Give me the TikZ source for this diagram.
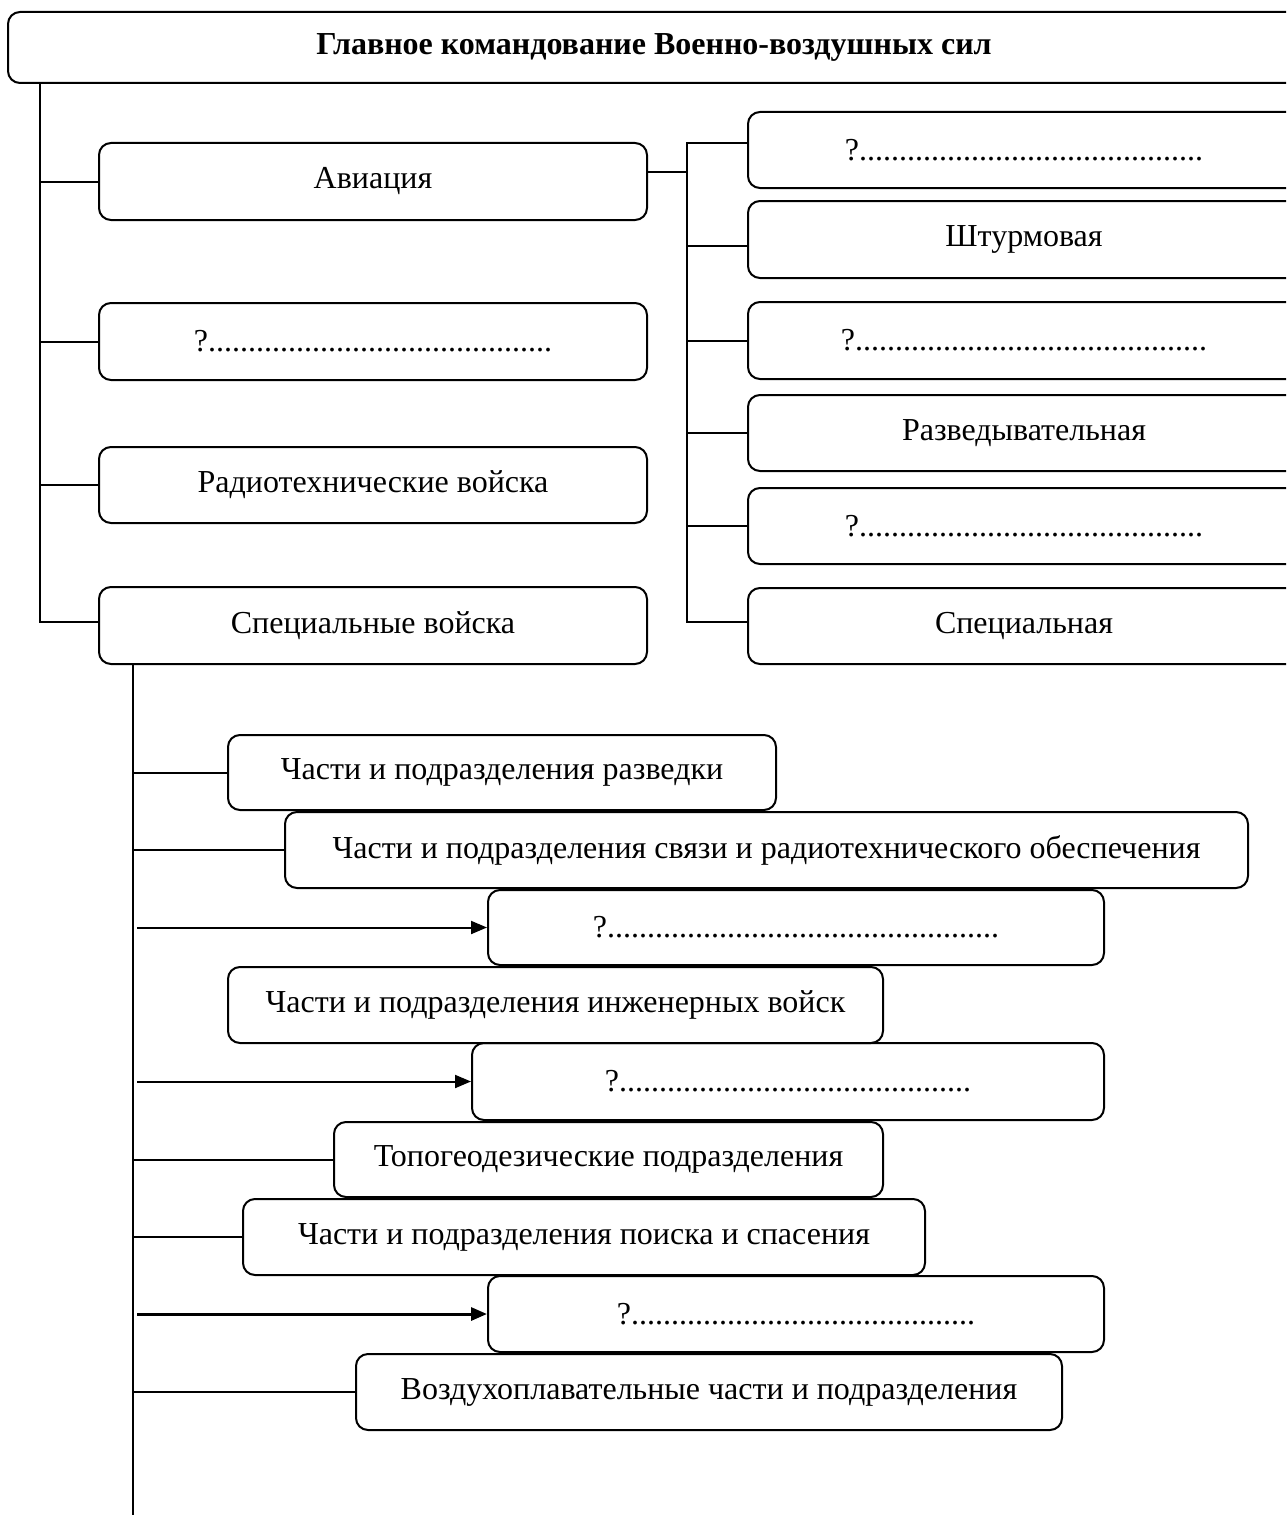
\documentclass[tikz,border=0pt]{standalone}
\usepackage{fontspec}
\setmainfont{Liberation Serif}
\usetikzlibrary{arrows.meta}

\tikzset{
  box/.style={draw, line width=1pt, rounded corners=6pt, inner sep=0pt, align=center},
  wh/.style 2 args={minimum width=#1*0.5pt, minimum height=#2*0.5pt},
  link/.style={line width=1pt},
  arr/.style={line width=1pt, -{Triangle[length=8pt,width=6.5pt]}}
}

\begin{document}
\begin{tikzpicture}[x=0.5pt,y=-0.5pt,font=\fontsize{16}{19}\selectfont]
\useasboundingbox (0,0) rectangle (1286,1520);
\clip (0,0) rectangle (1286,1520);

%Shape: top box
\node[box, wh={1292}{71}, font=\fontsize{16}{19}\selectfont\bfseries] (top) at (654,47.5) {Главное командование Военно-воздушных сил};

%Shape: left column
\node[box, wh={548}{77}] (avia) at (373,181.5) {Авиация};
\node[box, wh={548}{77}] (lq) at (373,341.5) {?...........................................};
\node[box, wh={548}{76}] (radio) at (373,485) {Радиотехнические войска};
\node[box, wh={548}{77}] (spec) at (373,625.5) {Специальные войска};

%Shape: right column
\node[box, wh={552}{76}] (r1) at (1024,150) {?...........................................};
\node[box, wh={552}{77}] (r2) at (1024,239.5) {Штурмовая};
\node[box, wh={552}{77}] (r3) at (1024,340.5) {?............................................};
\node[box, wh={552}{76}] (r4) at (1024,433) {Разведывательная};
\node[box, wh={552}{76}] (r5) at (1024,526) {?...........................................};
\node[box, wh={552}{76}] (r6) at (1024,626) {Специальная};

%Shape: special troops
\node[box, wh={548}{75}] (sa) at (502,772.5) {Части и подразделения разведки};
\node[box, wh={963}{76}] (sb) at (766.5,850) {Части и подразделения связи и радиотехнического обеспечения};
\node[box, wh={616}{75}] (sc) at (796,927.5) {?.................................................};
\node[box, wh={655}{76}] (sd) at (555.5,1005) {Части и подразделения инженерных войск};
\node[box, wh={632}{77}] (se) at (788,1081.5) {?............................................};
\node[box, wh={549}{75}] (sf) at (608.5,1159.5) {Топогеодезические подразделения};
\node[box, wh={682}{76}] (sg) at (584,1237) {Части и подразделения поиска и спасения};
\node[box, wh={616}{76}] (sh) at (796,1314) {?...........................................};
\node[box, wh={706}{76}] (si) at (709,1392) {Воздухоплавательные части и подразделения};

\coordinate (trunk) at (40,0);
\coordinate (rtrunk) at (687,0);
\coordinate (strunk) at (133,1515);

% main trunk
\draw[link] (top.south -| trunk) |- ([yshift=1.75pt]spec.west);
\foreach \n in {avia,lq,radio}
  \draw[link] (\n.west -| trunk) -- (\n.west);

% aviation branch
\draw[link] ([yshift=4.75pt]avia.east) -- ([yshift=4.75pt]avia.east -| rtrunk);
\draw[link] ([yshift=3.5pt]r1.west) -- ([yshift=3.5pt]r1.west -| rtrunk) |- ([yshift=2pt]r6.west);
\draw[link] ([yshift=-3.25pt]r2.west -| rtrunk) -- ([yshift=-3.25pt]r2.west);
\foreach \n in {r3,r4,r5}
  \draw[link] (\n.west -| rtrunk) -- (\n.west);

% special troops branch
\draw[link] (spec.south -| strunk) -- (strunk);
\foreach \n in {sa,sb,sf,sg,si}
  \draw[link] (\n.west -| strunk) -- (\n.west);
\foreach \n in {sc,se}
  \draw[arr] ([xshift=2pt]\n.west -| strunk) -- (\n.west);
\draw[arr, line width=1.5pt] ([xshift=2pt]sh.west -| strunk) -- (sh.west);

\end{tikzpicture}
\end{document}
